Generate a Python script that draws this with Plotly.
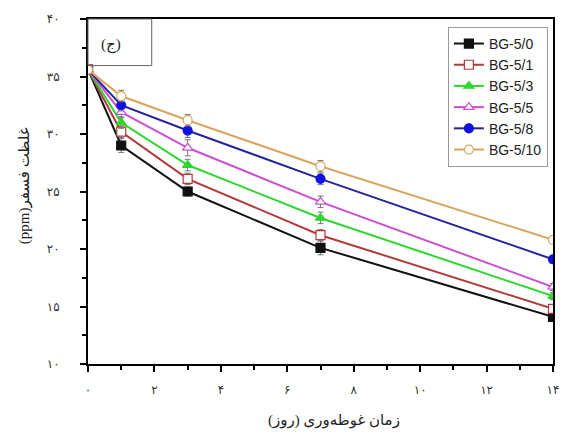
import plotly.graph_objects as go

# Immersion time (days)
days = [0, 1, 3, 7, 14]

# Phosphorus concentration (ppm) per sample
series_names = ["BG-5/0", "BG-5/1", "BG-5/3", "BG-5/5", "BG-5/8", "BG-5/10"]
bg_0 = [35.6, 29.0, 25.0, 20.1, 14.1]
bg_1 = [35.6, 30.2, 26.1, 21.2, 14.8]
bg_3 = [35.6, 31.0, 27.3, 22.7, 15.9]
bg_5 = [35.6, 31.9, 28.8, 24.1, 16.7]
bg_8 = [35.6, 32.5, 30.3, 26.1, 19.1]
bg_10 = [35.6, 33.3, 31.2, 27.2, 20.8]

# Standard deviations
err_0 = [0.3, 0.6, 0.4, 0.6, 0.3]
err_1 = [0.3, 0.5, 0.5, 0.5, 0.3]
err_3 = [0.3, 0.5, 0.5, 0.5, 0.3]
err_5 = [0.3, 0.5, 0.7, 0.5, 0.3]
err_8 = [0.3, 0.5, 0.6, 0.5, 0.3]
err_10 = [0.4, 0.5, 0.5, 0.5, 0.3]

# Tick labels in Persian digits
x_ticks = [0, 2, 4, 6, 8, 10, 12, 14]
x_tick_text = ["۰", "۲", "۴", "۶", "۸", "۱۰", "۱۲", "۱۴"]
y_ticks = [10, 15, 20, 25, 30, 35, 40]
y_tick_text = ["۱۰", "۱۵", "۲۰", "۲۵", "۳۰", "۳۵", "۴۰"]

values = [bg_0, bg_1, bg_3, bg_5, bg_8, bg_10]
errors = [err_0, err_1, err_3, err_5, err_8, err_10]
line_colors = ["#111111", "#b23a3a", "#2fd62f", "#cc4fd0", "#23239a", "#d9a55c"]
marker_fill = ["#111111", "white", "#2fd62f", "white", "#1010e0", "white"]
marker_line = ["#111111", "#b23a3a", "#2fd62f", "#cc4fd0", "#1010e0", "#d9a55c"]
symbols = ["square", "square", "triangle-up", "triangle-up", "circle", "circle"]

fig = go.Figure()
for name, y, e, lc, mf, ml, sym in zip(series_names, values, errors, line_colors,
                                        marker_fill, marker_line, symbols):
    fig.add_trace(go.Scatter(
        x=days, y=y, name=name, mode="lines+markers",
        line=dict(color=lc, width=2),
        marker=dict(symbol=sym, size=9, color=mf, line=dict(color=ml, width=1.2)),
        error_y=dict(type="data", array=e, visible=True, color="#777777",
                     thickness=1, width=3),
    ))

axis_font = dict(family="Liberation Serif, DejaVu Sans", size=12, color="#333333")

fig.update_xaxes(
    range=[0, 14], tickmode="array", tickvals=x_ticks, ticktext=x_tick_text,
    showline=True, linecolor="black", linewidth=2, mirror=True,
    ticks="outside", ticklen=6, tickwidth=2, tickcolor="black",
    minor=dict(dtick=1, ticks="outside", ticklen=4, tickwidth=1.5, tickcolor="black"),
    showgrid=False, zeroline=False, tickfont=axis_font, ticklabelstandoff=8,
)
fig.update_yaxes(
    range=[10, 40], tickmode="array", tickvals=y_ticks, ticktext=y_tick_text,
    showline=True, linecolor="black", linewidth=2, mirror=True,
    ticks="outside", ticklen=6, tickwidth=2, tickcolor="black",
    minor=dict(dtick=2.5, ticks="outside", ticklen=4, tickwidth=1.5, tickcolor="black"),
    showgrid=False, zeroline=False, tickfont=axis_font, ticklabelstandoff=18,
)

title_font = dict(family="Liberation Serif, DejaVu Sans", size=15, color="#222222")

fig.update_layout(
    width=571, height=435,
    margin=dict(l=88, r=17, t=17, b=71),
    plot_bgcolor="white", paper_bgcolor="white",
    showlegend=True,
    legend=dict(
        x=0.989, y=0.977, xanchor="right", yanchor="top",
        bgcolor="white", bordercolor="#999999", borderwidth=1,
        font=dict(family="Liberation Sans, Arial", size=14, color="#222222"),
        tracegroupgap=0,
    ),
    annotations=[
        dict(text="\u200fزمان غوطه\u200cوری (روز)\u200f", xref="paper", yref="paper",
             x=0.53, y=-0.164, xanchor="center", yanchor="middle",
             showarrow=False, font=title_font),
        dict(text="(ppm)غلظت فسفر", xref="paper", yref="paper",
             x=-0.135, y=0.516, xanchor="center", yanchor="middle",
             textangle=-90, showarrow=False, font=title_font),
        dict(text="(ج)", xref="paper", yref="paper",
             x=0.049, y=0.925, xanchor="center", yanchor="middle",
             showarrow=False, font=dict(family="Liberation Serif, DejaVu Sans",
                                        size=15, color="#222222")),
    ],
    shapes=[
        dict(type="rect", xref="paper", yref="paper",
             x0=0, x1=0.137, y0=0.865, y1=1,
             line=dict(color="#666666", width=1), fillcolor="rgba(0,0,0,0)"),
    ],
)

fig.write_html("out.html")
